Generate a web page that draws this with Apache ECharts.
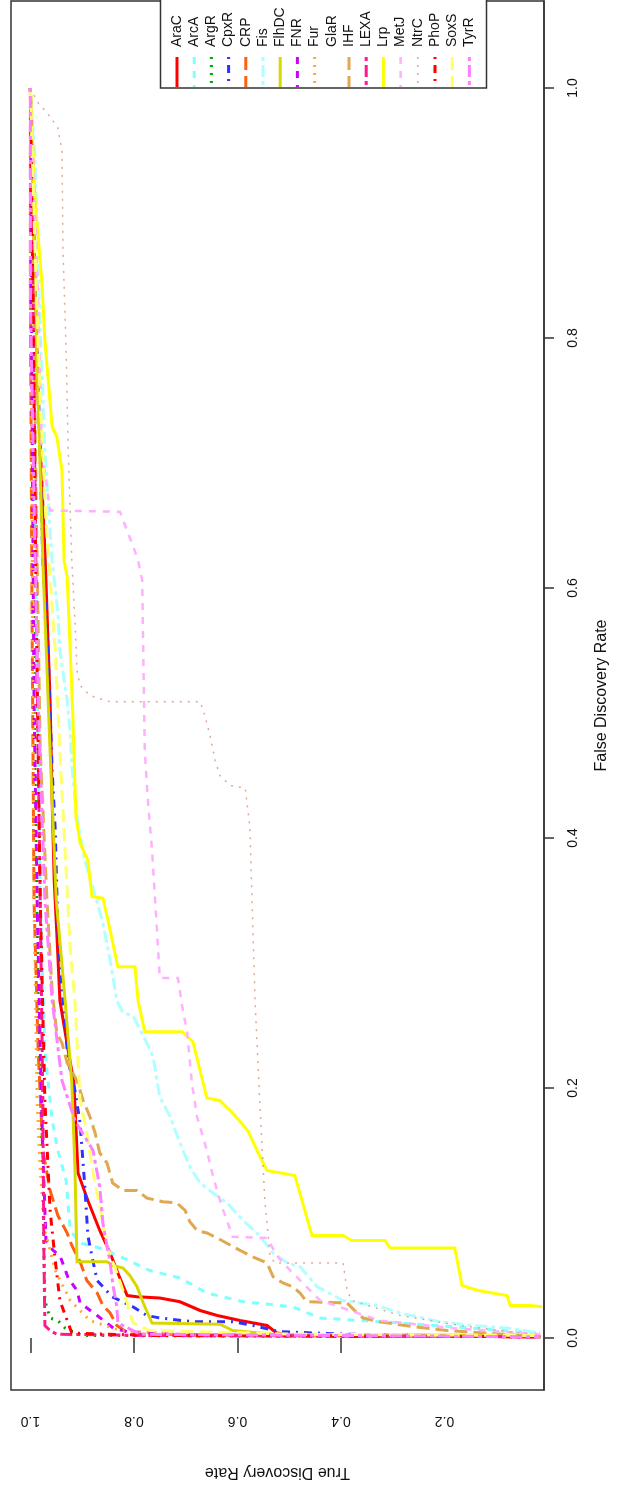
<!DOCTYPE html>
<html><head><meta charset="utf-8">
<script src="https://cdn.jsdelivr.net/npm/echarts@6/dist/echarts.min.js"></script>
<style>html,body{margin:0;padding:0;background:#fff}#c{width:631px;height:1485px}</style>
</head><body><div id="c"></div>
<script>
// Series names (legend order), colours and R-style line types
const names = ['AraC','ArcA','ArgR','CpxR','CRP','Fis','FlhDC','FNR','Fur','GlaR','IHF','LEXA','Lrp','MetJ','NtrC','PhoP','SoxS','TyrR'];
const colors = ['#FF0000','#80FFFF','#00A000','#3030FF','#FF6010','#B0FFFF','#D8D800','#CC00FF','#FFAA30','#FFFFFF','#E0A850','#FF1A8C','#FFFF00','#FFB0FF','#E0A890','#FF0000','#FFFF70','#FF80FF'];
const ltys = ['solid','dashed','dotted','dotdash','longdash','twodash','solid','dashed','dotted','dotdash','longdash','twodash','solid','dashed','dotted','dotdash','longdash','twodash'];

// Curves: [True Discovery Rate, False Discovery Rate]
const AraC = [[1.0,1.0],[0.995,0.910],[0.985,0.750],[0.972,0.630],[0.962,0.510],[0.958,0.430],[0.954,0.366],[0.949,0.324],[0.943,0.270],[0.927,0.230],[0.916,0.204],[0.908,0.132],[0.889,0.110],[0.866,0.086],[0.846,0.068],[0.831,0.052],[0.813,0.034],[0.794,0.033],[0.750,0.032],[0.711,0.029],[0.672,0.022],[0.639,0.018],[0.595,0.014],[0.543,0.010],[0.524,0.004],[0.479,0.002],[0.015,0.001]];
const ArcA = [[1.0,1.0],[0.995,0.830],[0.989,0.590],[0.981,0.350],[0.972,0.230],[0.958,0.174],[0.947,0.150],[0.931,0.126],[0.923,0.086],[0.904,0.076],[0.866,0.072],[0.831,0.066],[0.769,0.054],[0.711,0.048],[0.659,0.036],[0.589,0.029],[0.493,0.025],[0.441,0.016],[0.286,0.012],[0.015,0.004]];
const ArgR = [[1.0,1.0],[0.997,0.750],[0.993,0.510],[0.985,0.270],[0.976,0.118],[0.972,0.030],[0.962,0.016],[0.947,0.014],[0.933,0.008],[0.918,0.005],[0.899,0.002],[0.015,0.001]];
const CpxR = [[1.0,1.0],[0.993,0.870],[0.985,0.766],[0.976,0.622],[0.966,0.550],[0.958,0.454],[0.952,0.406],[0.947,0.326],[0.939,0.278],[0.927,0.222],[0.914,0.198],[0.904,0.172],[0.895,0.122],[0.889,0.082],[0.881,0.065],[0.871,0.046],[0.842,0.033],[0.802,0.025],[0.775,0.018],[0.750,0.016],[0.686,0.013],[0.609,0.013],[0.570,0.010],[0.518,0.005],[0.383,0.003],[0.015,0.001]];
const CRP = [[1.0,1.0],[1.0,0.830],[0.997,0.590],[0.993,0.350],[0.985,0.230],[0.976,0.150],[0.962,0.118],[0.947,0.098],[0.929,0.084],[0.920,0.074],[0.904,0.061],[0.891,0.046],[0.871,0.036],[0.860,0.026],[0.846,0.020],[0.833,0.010],[0.808,0.003],[0.015,0.001]];
const Fis = [[1.0,1.0],[0.991,0.942],[0.987,0.886],[0.981,0.806],[0.972,0.710],[0.958,0.622],[0.947,0.580],[0.943,0.550],[0.929,0.510],[0.923,0.484],[0.920,0.457],[0.910,0.417],[0.904,0.404],[0.895,0.382],[0.872,0.350],[0.860,0.332],[0.846,0.302],[0.833,0.270],[0.821,0.260],[0.802,0.258],[0.775,0.236],[0.763,0.225],[0.750,0.193],[0.730,0.177],[0.711,0.156],[0.692,0.137],[0.672,0.124],[0.647,0.116],[0.620,0.108],[0.589,0.094],[0.562,0.084],[0.531,0.068],[0.504,0.060],[0.479,0.057],[0.446,0.041],[0.396,0.030],[0.330,0.026],[0.286,0.020],[0.209,0.013],[0.145,0.010],[0.079,0.008],[0.015,0.004]];
const FlhDC = [[1.0,1.0],[0.993,0.870],[0.985,0.750],[0.976,0.622],[0.962,0.470],[0.950,0.350],[0.933,0.270],[0.920,0.204],[0.914,0.137],[0.910,0.061],[0.852,0.061],[0.840,0.058],[0.821,0.056],[0.808,0.050],[0.794,0.041],[0.782,0.028],[0.765,0.012],[0.634,0.011],[0.609,0.006],[0.531,0.003],[0.015,0.002]];
const FNR = [[1.0,1.0],[0.997,0.750],[0.993,0.510],[0.987,0.350],[0.981,0.230],[0.976,0.150],[0.970,0.078],[0.956,0.070],[0.943,0.066],[0.927,0.048],[0.910,0.038],[0.904,0.028],[0.871,0.018],[0.840,0.008],[0.813,0.005],[0.672,0.002],[0.015,0.001]];
const Fur = [[1.0,1.0],[0.997,0.670],[0.993,0.350],[0.987,0.190],[0.981,0.134],[0.972,0.086],[0.952,0.054],[0.923,0.030],[0.885,0.014],[0.827,0.006],[0.672,0.002],[0.015,0.001]];
const GlaR = [];
const IHF = [[1.0,1.0],[0.995,0.870],[0.989,0.670],[0.981,0.470],[0.968,0.350],[0.958,0.278],[0.949,0.244],[0.939,0.236],[0.929,0.220],[0.910,0.206],[0.898,0.190],[0.885,0.177],[0.875,0.164],[0.866,0.148],[0.852,0.140],[0.841,0.124],[0.821,0.118],[0.794,0.118],[0.775,0.112],[0.744,0.109],[0.717,0.108],[0.701,0.102],[0.692,0.093],[0.678,0.086],[0.659,0.084],[0.639,0.080],[0.608,0.073],[0.576,0.066],[0.543,0.060],[0.531,0.049],[0.512,0.044],[0.493,0.041],[0.479,0.036],[0.466,0.029],[0.388,0.028],[0.369,0.020],[0.357,0.016],[0.325,0.013],[0.260,0.009],[0.195,0.006],[0.118,0.004],[0.015,0.001]];
const LEXA = [[1.0,1.0],[0.995,0.830],[0.989,0.590],[0.981,0.350],[0.976,0.190],[0.974,0.070],[0.972,0.010],[0.962,0.006],[0.949,0.003],[0.769,0.002],[0.015,0.001]];
const Lrp = [[1.0,1.0],[0.991,0.910],[0.978,0.846],[0.972,0.798],[0.958,0.729],[0.949,0.721],[0.939,0.694],[0.935,0.622],[0.929,0.609],[0.923,0.550],[0.918,0.497],[0.912,0.417],[0.904,0.396],[0.889,0.382],[0.881,0.353],[0.860,0.352],[0.850,0.334],[0.831,0.297],[0.798,0.297],[0.792,0.270],[0.779,0.245],[0.707,0.245],[0.686,0.237],[0.659,0.192],[0.634,0.190],[0.609,0.180],[0.580,0.166],[0.562,0.150],[0.543,0.134],[0.489,0.130],[0.456,0.082],[0.396,0.082],[0.379,0.078],[0.315,0.078],[0.305,0.072],[0.180,0.072],[0.166,0.042],[0.135,0.038],[0.079,0.034],[0.073,0.026],[0.035,0.026],[0.011,0.025]];
const MetJ = [[1.0,1.0],[0.995,0.950],[0.985,0.830],[0.978,0.710],[0.962,0.662],[0.827,0.661],[0.817,0.650],[0.802,0.634],[0.792,0.622],[0.784,0.606],[0.782,0.550],[0.779,0.470],[0.773,0.430],[0.765,0.390],[0.759,0.350],[0.750,0.288],[0.715,0.288],[0.707,0.266],[0.697,0.244],[0.688,0.204],[0.678,0.177],[0.659,0.150],[0.647,0.129],[0.630,0.105],[0.609,0.081],[0.543,0.080],[0.522,0.065],[0.498,0.054],[0.440,0.030],[0.325,0.014],[0.189,0.008],[0.015,0.003]];
const NtrC = [[1.0,1.0],[0.985,0.988],[0.976,0.984],[0.962,0.977],[0.947,0.968],[0.939,0.950],[0.937,0.870],[0.931,0.790],[0.927,0.710],[0.920,0.622],[0.914,0.574],[0.910,0.534],[0.904,0.522],[0.885,0.514],[0.846,0.509],[0.672,0.509],[0.663,0.498],[0.653,0.482],[0.643,0.462],[0.634,0.450],[0.614,0.442],[0.585,0.440],[0.576,0.409],[0.566,0.270],[0.557,0.190],[0.547,0.110],[0.537,0.066],[0.528,0.060],[0.396,0.060],[0.388,0.038],[0.379,0.030],[0.286,0.018],[0.170,0.010],[0.015,0.002]];
const PhoP = [[1.0,1.0],[0.995,0.830],[0.989,0.590],[0.981,0.350],[0.972,0.190],[0.962,0.102],[0.952,0.062],[0.943,0.030],[0.929,0.014],[0.920,0.004],[0.769,0.002],[0.015,0.001]];
const SoxS = [[1.0,1.0],[0.991,0.870],[0.981,0.750],[0.970,0.654],[0.952,0.550],[0.943,0.470],[0.933,0.390],[0.923,0.310],[0.914,0.270],[0.904,0.190],[0.891,0.164],[0.879,0.132],[0.866,0.105],[0.852,0.073],[0.831,0.050],[0.813,0.028],[0.802,0.012],[0.769,0.006],[0.479,0.003],[0.015,0.002]];
const TyrR = [[1.0,1.0],[1.0,0.830],[0.993,0.670],[0.985,0.510],[0.972,0.350],[0.958,0.270],[0.939,0.206],[0.914,0.174],[0.879,0.150],[0.866,0.121],[0.860,0.092],[0.846,0.060],[0.840,0.041],[0.833,0.025],[0.831,0.012],[0.788,0.003],[0.015,0.001]];
const curves = [AraC,ArcA,ArgR,CpxR,CRP,Fis,FlhDC,FNR,Fur,GlaR,IHF,LEXA,Lrp,MetJ,NtrC,PhoP,SoxS,TyrR];

// Axis ticks / labels
const fdrTicks = [0.0,0.2,0.4,0.6,0.8,1.0];
const tdrTicks = [1.0,0.8,0.6,0.4];
const tdrLabels = [1.0,0.8,0.6,0.4,0.2];

const dashMap = {solid:'solid', dashed:[7,7], dotted:[2,6], dotdash:[2,6,8,6], longdash:[13,6], twodash:[4,4,12,4]};
const widthOf = n => (n==='NtrC' ? 1.5 : (n==='MetJ' ? 2.5 : 3));
const FONT = "'Liberation Sans', Arial, sans-serif";

const chart = echarts.init(document.getElementById('c'), null, {renderer:'canvas'});

const series = names.map((n,i)=>({
  name:n, type:'line', data:curves[i], showSymbol:false, symbol:'none',
  lineStyle:{color:colors[i], width:widthOf(n), type:dashMap[ltys[i]], cap:'butt', join:'miter'},
  itemStyle:{color:colors[i]}, silent:true, animation:false
}));

// Legend (rotated text) drawn as graphics
const legX0 = 177, legStep = 17.2;
const legendEls = [{type:'rect', shape:{x:160.5,y:-2,width:326,height:90}, style:{fill:'#fff', stroke:'#333', lineWidth:1.5}, z:100}];
names.forEach((n,i)=>{
  const cx = legX0 + i*legStep;
  legendEls.push({type:'text', x:cx, y:47, rotation:Math.PI/2, z:101,
    style:{text:n, fill:'#111', font:'14px '+FONT, textAlign:'left', textVerticalAlign:'middle'}});
  legendEls.push({type:'line', shape:{x1:cx,y1:57,x2:cx,y2:87}, z:101,
    style:{stroke:colors[i], lineWidth:widthOf(n), lineDash: ltys[i]==='solid'?null:dashMap[ltys[i]]}});
});

chart.setOption({
  animation:false,
  backgroundColor:'#fff',
  grid:{left:11, right:87, top:1, bottom:95, show:true, borderColor:'#333', borderWidth:1.5, backgroundColor:'transparent'},
  xAxis:{type:'value', inverse:true, min:0.0077, max:1.0375, position:'bottom',
    axisLine:{show:false},
    axisTick:{show:true, length:15, customValues:tdrTicks, lineStyle:{color:'#333', width:1.5}},
    axisLabel:{show:true, customValues:tdrLabels, rotate:180, margin:24, color:'#111', fontSize:14, fontFamily:FONT, formatter:v=>v.toFixed(1)},
    splitLine:{show:false},
    name:'True Discovery Rate', nameLocation:'middle', nameGap:74, nameRotate:180,
    nameTextStyle:{color:'#111', fontSize:16, fontFamily:FONT}},
  yAxis:{type:'value', min:-0.0416, max:1.0696, position:'right',
    axisLine:{show:true, lineStyle:{color:'#333', width:1.5}},
    axisTick:{show:true, length:10, customValues:fdrTicks, lineStyle:{color:'#333', width:1.5}},
    axisLabel:{show:true, customValues:fdrTicks, rotate:90, margin:22, color:'#111', fontSize:14, fontFamily:FONT, formatter:v=>v.toFixed(1)},
    splitLine:{show:false},
    name:'False Discovery Rate', nameLocation:'middle', nameGap:50, nameRotate:90,
    nameTextStyle:{color:'#111', fontSize:16, fontFamily:FONT}},
  series:series,
  graphic:legendEls
});
</script>
</body></html>
